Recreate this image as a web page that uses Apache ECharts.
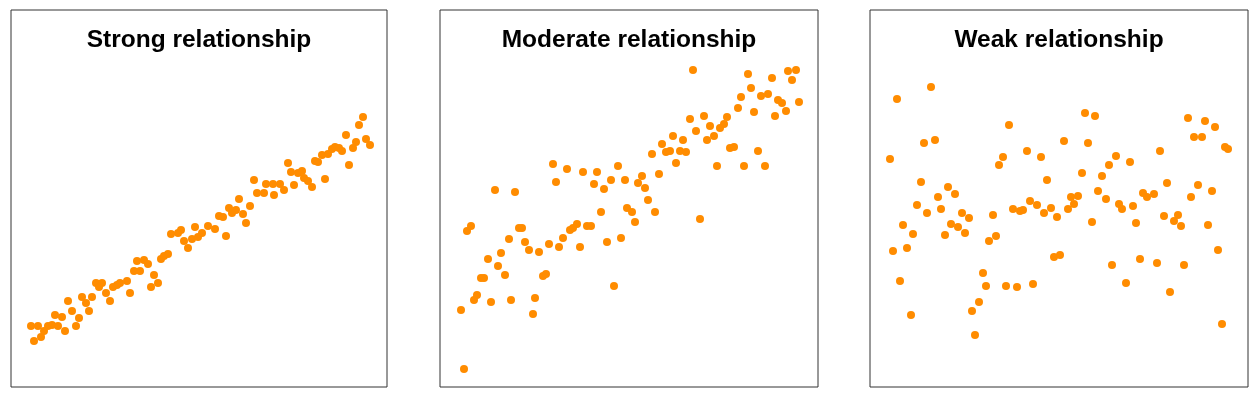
<!DOCTYPE html>
<html>
<head>
<meta charset="utf-8">
<script src="https://cdn.jsdelivr.net/npm/echarts@6/dist/echarts.min.js"></script>
<style>
  html, body { margin: 0; padding: 0; background: #fff; }
  #chart { width: 1257px; height: 398px; }
</style>
</head>
<body>
<div id="chart"></div>
<script>
// panel titles
var titles = ['Strong relationship', 'Moderate relationship', 'Weak relationship']

// values, [x, y] pairs
var strong = [
  [20, 61], [27, 61], [23, 46], [30, 50], [33, 56], [37, 61], [41, 62], [47, 61], [54, 56], [44, 72],
  [51, 70], [65, 61], [68, 69], [61, 76], [57, 86], [71, 90], [75, 84], [81, 90], [78, 76], [95, 94],
  [99, 86], [85, 104], [91, 104], [88, 100], [102, 100], [106, 102], [109, 104], [116, 106], [119, 94], [123, 116],
  [129, 116], [126, 126], [133, 127], [137, 123], [143, 112], [140, 100], [147, 104], [150, 128], [153, 131], [157, 133],
  [160, 153], [167, 154], [173, 146], [177, 139], [181, 148], [187, 150], [170, 157], [184, 160], [191, 154], [197, 161],
  [204, 158], [215, 151], [208, 171], [212, 170], [218, 179], [225, 177], [221, 174], [228, 188], [232, 173], [235, 164],
  [239, 181], [243, 207], [246, 194], [253, 194], [255, 203], [263, 192], [262, 203], [269, 203], [273, 197], [277, 224],
  [280, 215], [283, 202], [287, 214], [291, 216], [293, 209], [297, 206], [301, 200], [304, 226], [307, 225], [311, 232],
  [314, 208], [317, 233], [321, 238], [324, 240], [328, 239], [331, 236], [335, 252], [338, 222], [342, 239], [345, 245],
  [348, 262], [352, 270], [355, 248], [359, 242]
]

var moderate = [
  [55, 197], [75, 195], [113, 223], [116, 205], [127, 218], [143, 215], [154, 203], [157, 215], [164, 198], [171, 207],
  [178, 221], [185, 207], [161, 175], [187, 179], [31, 161], [27, 156], [79, 159], [82, 159], [137, 163], [147, 161],
  [151, 161], [69, 148], [85, 145], [89, 137], [99, 135], [109, 143], [119, 140], [123, 149], [130, 157], [133, 159],
  [140, 140], [167, 145], [181, 149], [174, 101], [61, 134], [48, 128], [58, 121], [65, 112], [41, 109], [44, 109],
  [37, 92], [34, 87], [51, 85], [71, 87], [95, 89], [103, 111], [106, 113], [93, 73], [21, 77], [24, 18],
  [253, 317], [308, 313], [348, 316], [356, 317], [352, 307], [332, 309], [311, 299], [321, 291], [328, 293], [338, 287],
  [342, 284], [359, 285], [301, 290], [298, 279], [314, 275], [335, 271], [346, 276], [250, 268], [264, 271], [287, 270],
  [284, 263], [280, 259], [270, 261], [256, 256], [274, 251], [267, 247], [233, 251], [243, 247], [222, 243], [212, 233],
  [226, 235], [230, 236], [240, 236], [246, 235], [236, 224], [219, 213], [290, 239], [294, 240], [318, 236], [277, 221],
  [304, 221], [325, 221], [202, 211], [198, 204], [205, 199], [208, 187], [192, 175], [215, 175], [195, 165], [260, 168]
]

var weak = [
  [27, 288], [61, 300], [20, 228], [54, 244], [65, 247], [51, 205], [78, 200], [85, 193], [68, 190], [47, 182],
  [57, 174], [71, 178], [92, 174], [99, 169], [81, 163], [88, 160], [33, 162], [139, 262], [157, 236], [133, 230],
  [129, 222], [171, 230], [177, 207], [123, 172], [143, 178], [150, 176], [153, 177], [160, 186], [167, 182], [181, 179],
  [174, 174], [187, 170], [215, 274], [225, 271], [194, 246], [218, 244], [318, 269], [335, 266], [345, 260], [324, 250],
  [332, 250], [355, 240], [358, 238], [290, 236], [246, 231], [239, 222], [260, 225], [212, 214], [232, 211], [297, 204],
  [228, 196], [236, 188], [201, 190], [208, 191], [204, 183], [198, 178], [222, 165], [249, 183], [252, 178], [263, 181],
  [273, 194], [277, 190], [284, 193], [266, 164], [294, 171], [304, 166], [308, 172], [311, 161], [321, 190], [328, 202],
  [342, 196], [338, 162], [43, 153], [23, 136], [37, 139], [95, 154], [75, 152], [119, 146], [126, 151], [30, 106],
  [41, 72], [113, 114], [116, 101], [109, 85], [102, 76], [105, 52], [136, 101], [147, 100], [163, 103], [184, 130],
  [190, 132], [242, 122], [270, 128], [287, 124], [314, 122], [348, 137], [256, 104], [300, 95], [352, 63]
]

var panels = [strong, moderate, weak]
var lefts = [11, 440, 870]
var widths = [376, 378, 378]

var chart = echarts.init(document.getElementById('chart'))

var grids = [], xAxes = [], yAxes = [], series = [], titleList = []
panels.forEach(function (data, i) {
  grids.push({
    left: lefts[i],
    top: 10,
    width: widths[i],
    height: 377,
    show: true,
    borderColor: '#333',
    borderWidth: 1,
    backgroundColor: 'transparent'
  })
  xAxes.push({
    gridIndex: i,
    type: 'value',
    min: 0,
    max: widths[i],
    show: false
  })
  yAxes.push({
    gridIndex: i,
    type: 'value',
    min: 0,
    max: 377,
    show: false
  })
  series.push({
    type: 'scatter',
    xAxisIndex: i,
    yAxisIndex: i,
    symbolSize: 8,
    itemStyle: { color: '#FF8C00', opacity: 1 },
    data: data,
    animation: false
  })
  // titles sit inside each box, centred
  titleList.push({
    text: titles[i],
    left: lefts[i] + widths[i] / 2,
    textAlign: 'center',
    top: 28,
    padding: 0,
    textStyle: {
      fontFamily: 'Liberation Sans, Arial, sans-serif',
      fontWeight: 'bold',
      fontSize: 24.5,
      color: '#000'
    }
  })
})

chart.setOption({
  animation: false,
  title: titleList,
  grid: grids,
  xAxis: xAxes,
  yAxis: yAxes,
  series: series
})
</script>
</body>
</html>
